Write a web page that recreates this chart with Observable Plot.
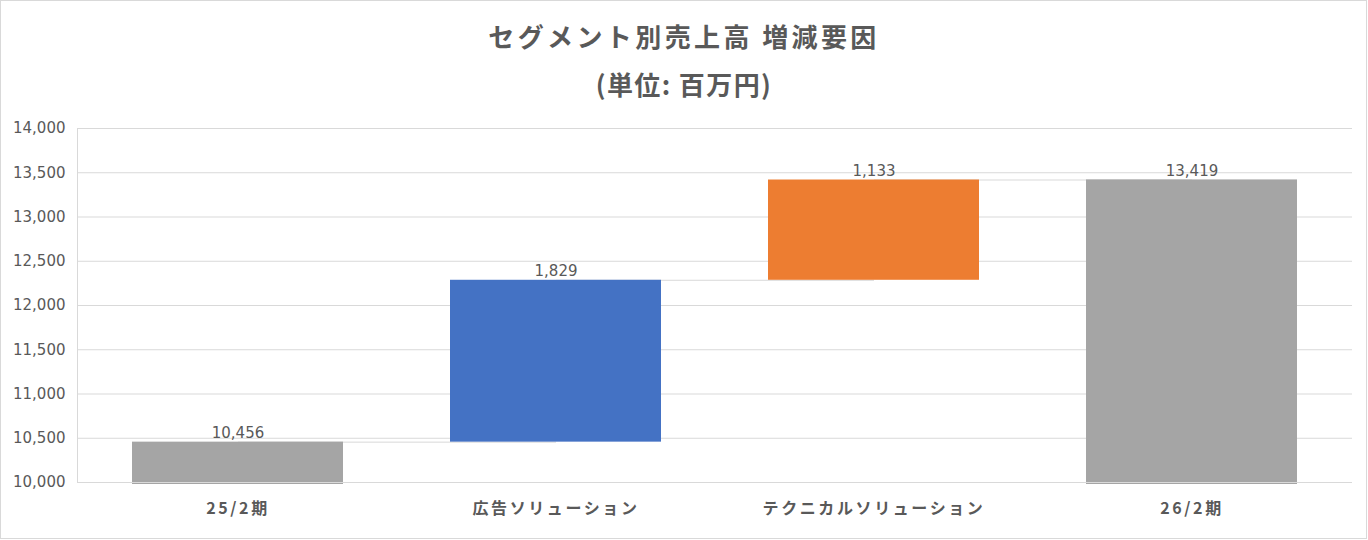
<!DOCTYPE html>
<html>
<head>
<meta charset="utf-8">
<script src="https://cdn.jsdelivr.net/npm/d3@7"></script>
<script src="https://cdn.jsdelivr.net/npm/@observablehq/plot@0.6"></script>
<style>
  html, body { margin: 0; padding: 0; background: #fff; }
  #wrap { position: relative; width: 1368px; height: 540px; overflow: hidden; }
  #border { position: absolute; left: 0; top: 0; width: 1365px; height: 537px; border: 1px solid #d9d9d9; pointer-events: none; }
  .title { position: absolute; left: 0; width: 1368px; text-align: center; font-family: "Noto Sans CJK JP", sans-serif; font-weight: bold; font-size: 26px; color: #595959; line-height: 1; }
  #chart { position: absolute; left: 0; top: 0; }
  #chart g[aria-label="x-axis tick label"] { letter-spacing: 2.6px; }
</style>
</head>
<body>
<div id="wrap">
  <div class="title" id="t1" style="top:23px; letter-spacing: 3.4px;">セグメント別売上高 増減要因</div>
  <div class="title" id="t2" style="top:71px; letter-spacing: 1.4px;">(単位: 百万円)</div>
  <div id="chart"></div>
  <div id="border"></div>
</div>
<script>
const categories = ["25/2期", "広告ソリューション", "テクニカルソリューション", "26/2期"];
const values = [10456, 1829, 1133, 13419];
const kinds = ["total", "increase", "increase", "total"];
const yTicks = [10000, 10500, 11000, 11500, 12000, 12500, 13000, 13500, 14000];
const yMin = 10000;
const yMax = 14000;

// Build waterfall rows
let running = 0;
const rows = categories.map((c, i) => {
  let lo, hi;
  if (kinds[i] === "total") {
    lo = yMin; hi = values[i]; running = values[i];
  } else {
    lo = running; hi = running + values[i]; running = hi;
  }
  return {category: c, kind: kinds[i], value: values[i], lo, hi};
});
const links = rows.slice(0, -1).map((r, i) => ({from: r.category, to: rows[i + 1].category, level: r.hi}));

const numFont = "DejaVu Sans, Noto Sans CJK JP, sans-serif";

const chart = Plot.plot({
  width: 1368,
  height: 540,
  marginTop: 128,
  marginBottom: 58,
  marginLeft: 77,
  marginRight: 16,
  style: {color: "#595959", background: "transparent", fontFamily: numFont},
  x: {domain: categories, paddingInner: 0.335, paddingOuter: 0.1675, label: null},
  y: {domain: [yMin, yMax], ticks: yTicks, label: null},
  color: {domain: categories, range: ["#a5a5a5", "#4472c4", "#ed7d31", "#a5a5a5"]},
  marks: [
    Plot.gridY(yTicks, {stroke: "#d9d9d9", strokeOpacity: 1}),
    Plot.frame({anchor: "left", stroke: "#d9d9d9"}),
    Plot.link(links, {x1: "from", x2: "to", y1: "level", y2: "level", stroke: "#d9d9d9", strokeWidth: 1}),
    Plot.barY(rows.filter(d => d.kind === "total"), {x: "category", y1: "lo", y2: "hi", fill: "category", insetBottom: -2}),
    Plot.barY(rows.filter(d => d.kind !== "total"), {x: "category", y1: "lo", y2: "hi", fill: "category"}),
    Plot.ruleY([yMin], {stroke: "#d9d9d9"}),
    Plot.text(rows, {x: "category", y: "hi", text: d => d3.format(",")(d.value), dy: -4, lineAnchor: "bottom", fontSize: 15, fill: "#595959", fontFamily: numFont}),
    Plot.axisY(yTicks, {tickSize: 0, tickPadding: 12, tickFormat: d3.format(","), fontSize: 15, fill: "#595959", fontFamily: numFont}),
    Plot.axisX({tickSize: 0, tickPadding: 20, fontSize: 16, fontWeight: "bold", fill: "#595959", fontFamily: "Noto Sans CJK JP, sans-serif"})
  ]
});
document.getElementById("chart").appendChild(chart);
</script>
</body>
</html>
